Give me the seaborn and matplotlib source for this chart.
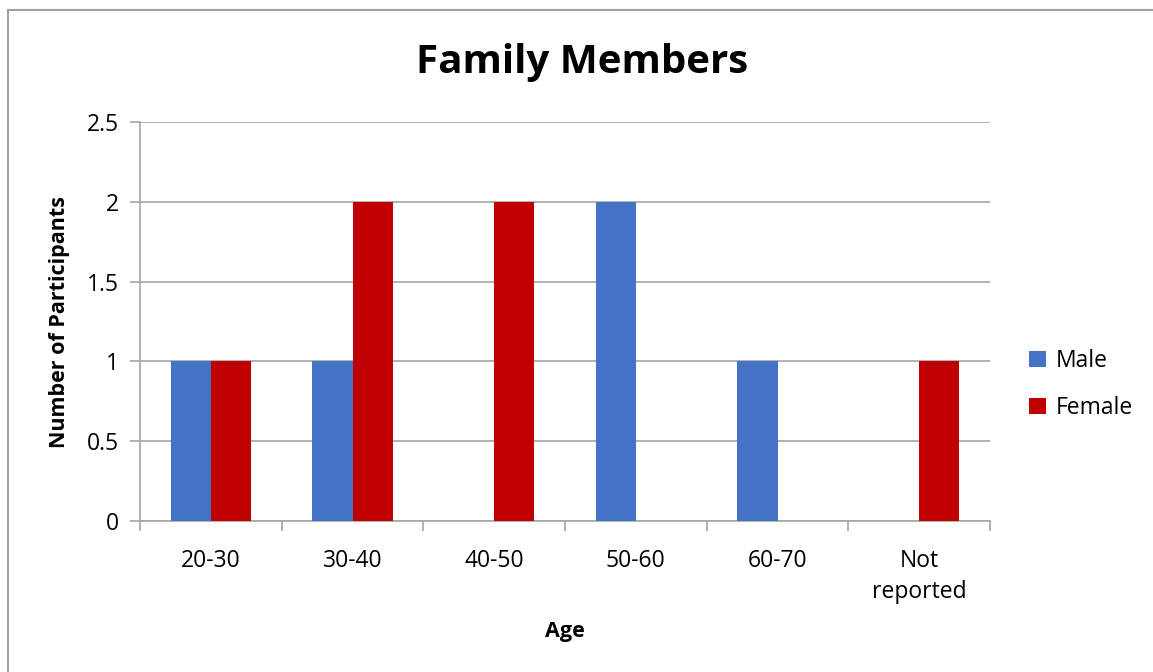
import pandas as pd
import seaborn as sns
import matplotlib.pyplot as plt
from matplotlib.patches import Rectangle

ages = ["20-30", "30-40", "40-50", "50-60", "60-70", "Not\nreported"]
male = [1, 1, 0, 2, 1, 0]
female = [1, 2, 2, 0, 0, 1]
series = ["Male", "Female"]
colors = ["#4472C4", "#C00000"]

df = pd.DataFrame({"age": ages * 2,
                   "sex": ["Male"] * len(ages) + ["Female"] * len(ages),
                   "count": male + female})

sns.set_theme(style="white")
plt.rcParams["font.family"] = ["Open Sans", "DejaVu Sans"]
plt.rcParams["text.color"] = "black"
plt.rcParams["axes.labelcolor"] = "black"
plt.rcParams["xtick.color"] = "black"
plt.rcParams["ytick.color"] = "black"

fig = plt.figure(figsize=(11.53, 6.72), dpi=100)
ax = fig.add_axes([140 / 1153, 1 - 521 / 672, 850 / 1153, 399 / 672])

sns.barplot(data=df, x="age", y="count", hue="sex", hue_order=series,
            palette=colors, width=0.565, saturation=1, ax=ax, zorder=3,
            linewidth=0, edgecolor="none")

ax.set_ylim(0, 2.5)
ax.set_yticks([0, 0.5, 1, 1.5, 2, 2.5])
ax.set_yticklabels(["0", "0.5", "1", "1.5", "2", "2.5"])
ax.set_xlim(-0.5, len(ages) - 0.5)
ax.yaxis.grid(True, color="#a6a6a6", linewidth=1.2, zorder=0)
for s in ["top", "right"]:
    ax.spines[s].set_visible(False)
for s in ["left", "bottom"]:
    ax.spines[s].set_color("#a6a6a6")
    ax.spines[s].set_linewidth(1.2)

# category ticks sit on the boundaries between groups
ax.set_xticks(range(len(ages)))
ax.set_xticklabels(ages, fontsize=16.5, linespacing=1.4)
ax.tick_params(axis="x", length=0, pad=20, labelcolor="black")
ax.set_xticks([i - 0.5 for i in range(len(ages) + 1)], minor=True)
ax.tick_params(axis="x", which="minor", bottom=True, length=7, width=1.2,
               color="#a6a6a6", direction="out")
ax.tick_params(axis="y", length=7, width=1.2, color="#a6a6a6", direction="out",
               labelsize=16.5, pad=8, left=True, labelcolor="black")

ax.set_xlabel("Age", fontsize=15.5, fontweight="bold", labelpad=12)
ax.set_ylabel("Number of Participants", fontsize=15.5, fontweight="bold", labelpad=12)
fig.text(0.505, 1 - 62 / 672, "Family Members", ha="center", va="center",
         fontsize=29, fontweight="bold")

handles, labels = ax.get_legend_handles_labels()
ax.legend(handles, labels, loc="center left", bbox_to_anchor=(1.035, 0.342),
          frameon=False, fontsize=16.5, handlelength=0.75, handleheight=0.75,
          handletextpad=0.4, labelspacing=1.0, borderaxespad=0)

fig.patches.append(Rectangle((8 / 1153, -0.05), 1.2, 1 - 10 / 672 + 0.05,
                             transform=fig.transFigure, fill=False,
                             edgecolor="#a0a0a0", linewidth=1.5))

fig.savefig("out.png", dpi=100)
